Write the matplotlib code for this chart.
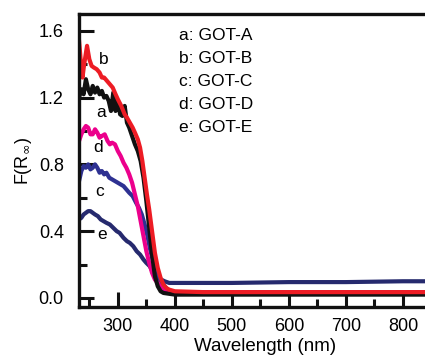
import matplotlib
matplotlib.use('Agg')
import matplotlib.pyplot as plt
from matplotlib.ticker import MultipleLocator, FormatStrFormatter

plt.rcParams['font.family'] = ['Liberation Sans', 'DejaVu Sans']

# GOT-A (black)
wl_a = [232, 236, 240, 244, 248, 252, 256, 260, 264, 268, 272, 276, 280, 284, 288, 292, 296, 300, 304,
        308, 312, 316, 320, 325, 330, 335, 340, 345, 350, 355, 360, 365, 370, 375, 380, 390, 400, 600, 884]
f_a = [1.20, 1.25, 1.22, 1.31, 1.25, 1.22, 1.27, 1.23, 1.26, 1.22, 1.24, 1.20, 1.21, 1.18, 1.12, 1.23, 1.12,
       1.18, 1.10, 1.09, 1.15, 1.05, 1.02, 0.97, 0.92, 0.88, 0.82, 0.72, 0.58, 0.42, 0.26, 0.13, 0.07, 0.04,
       0.03, 0.025, 0.02, 0.02, 0.02]

# GOT-B (red)
wl_b = [232, 235, 238, 241, 246, 250, 254, 258, 263, 268, 272, 276, 281, 286, 291, 296, 300, 306, 312, 316,
        321, 326, 330, 335, 339, 343, 347, 351, 355, 360, 365, 370, 375, 380, 385, 390, 400, 450, 884]
f_b = [1.54, 1.42, 1.32, 1.40, 1.51, 1.43, 1.39, 1.38, 1.37, 1.35, 1.32, 1.32, 1.30, 1.28, 1.26, 1.22, 1.19,
       1.15, 1.10, 1.08, 1.05, 1.02, 0.99, 0.95, 0.90, 0.82, 0.72, 0.62, 0.53, 0.40, 0.27, 0.18, 0.12, 0.08,
       0.06, 0.05, 0.04, 0.035, 0.035]

# GOT-C (blue)
wl_c = [232, 236, 240, 244, 248, 252, 256, 260, 264, 268, 272, 276, 280, 285, 290, 295, 300, 305, 310, 315,
        320, 326, 332, 337, 342, 347, 352, 356, 361, 366, 370, 375, 382, 390, 400, 450, 884]
f_c = [0.70, 0.76, 0.79, 0.78, 0.80, 0.77, 0.78, 0.80, 0.78, 0.75, 0.76, 0.74, 0.75, 0.72, 0.71, 0.70, 0.69,
       0.68, 0.67, 0.65, 0.63, 0.61, 0.57, 0.54, 0.50, 0.44, 0.37, 0.30, 0.23, 0.17, 0.13, 0.10, 0.07, 0.04,
       0.03, 0.025, 0.025]

# GOT-D (magenta)
wl_d = [232, 236, 240, 244, 248, 252, 256, 260, 264, 268, 272, 277, 282, 286, 290, 295, 300, 305, 310, 315,
        320, 325, 330, 335, 340, 345, 350, 355, 360, 365, 370, 375, 380, 390, 400, 884]
f_d = [0.94, 0.98, 1.01, 1.03, 1.02, 0.98, 0.98, 1.01, 0.99, 0.96, 0.97, 0.98, 0.94, 0.92, 0.93, 0.92, 0.88,
       0.85, 0.81, 0.78, 0.74, 0.69, 0.62, 0.55, 0.46, 0.37, 0.28, 0.21, 0.15, 0.11, 0.09, 0.065, 0.05, 0.04,
       0.035, 0.035]

# GOT-E (navy)
wl_e = [232, 236, 240, 244, 248, 252, 256, 260, 265, 270, 275, 280, 286, 292, 298, 303, 310, 316, 321, 327,
        333, 339, 345, 350, 356, 361, 366, 370, 376, 382, 390, 400, 500, 600, 700, 800, 884]
f_e = [0.47, 0.48, 0.50, 0.51, 0.52, 0.52, 0.51, 0.50, 0.49, 0.47, 0.46, 0.45, 0.44, 0.42, 0.40, 0.39, 0.36,
       0.34, 0.33, 0.31, 0.28, 0.26, 0.23, 0.21, 0.19, 0.16, 0.14, 0.12, 0.11, 0.10, 0.09, 0.09, 0.09, 0.095,
       0.095, 0.10, 0.10]

legend_lines = ['a: GOT-A', 'b: GOT-B', 'c: GOT-C', 'd: GOT-D', 'e: GOT-E']

fig = plt.figure(figsize=(4.25, 3.62), dpi=100)
ax = fig.add_axes([0.186, 0.152, 0.875, 0.809])

ax.plot(wl_e, f_e, color='#262a6e', lw=3)
ax.plot(wl_c, f_c, color='#2e3192', lw=3)
ax.plot(wl_d, f_d, color='#ec008c', lw=3)
ax.plot(wl_a, f_a, color='#111111', lw=3)
ax.plot(wl_b, f_b, color='#ed1c24', lw=3)

# curve letters
ax.text(266, 1.43, 'b', fontsize=12.5, va='center')
ax.text(262, 1.11, 'a', fontsize=12.5, va='center')
ax.text(257, 0.90, 'd', fontsize=12.5, va='center')
ax.text(261, 0.64, 'c', fontsize=12.5, va='center')
ax.text(264, 0.38, 'e', fontsize=12.5, va='center')

for i, s in enumerate(legend_lines):
    ax.text(0.27, 0.928 - i * 0.079, s, transform=ax.transAxes, fontsize=12.5, va='center')

ax.set_xlim(232, 884)
ax.set_ylim(-0.054, 1.70)
ax.xaxis.set_major_locator(MultipleLocator(100))
ax.xaxis.set_minor_locator(MultipleLocator(50))
ax.yaxis.set_major_locator(MultipleLocator(0.4))
ax.yaxis.set_minor_locator(MultipleLocator(0.2))
ax.yaxis.set_major_formatter(FormatStrFormatter('%.1f'))

ax.tick_params(which='major', direction='in', length=11, width=2.2, labelsize=13, color='#111111')
ax.tick_params(which='minor', direction='in', length=6, width=2.2, color='#111111')
ax.tick_params(axis='x', which='both', top=False, pad=8)
ax.tick_params(axis='y', which='both', right=False, pad=11)

for side in ['left', 'bottom', 'top']:
    ax.spines[side].set_linewidth(2.4)
    ax.spines[side].set_color('#111111')
ax.spines['right'].set_visible(False)

ax.set_xlabel('Wavelength (nm)', fontsize=13.5, labelpad=2)
ax.set_ylabel(r'F(R$_\infty$)', fontsize=13, labelpad=3)

plt.savefig('out.png', dpi=100)
